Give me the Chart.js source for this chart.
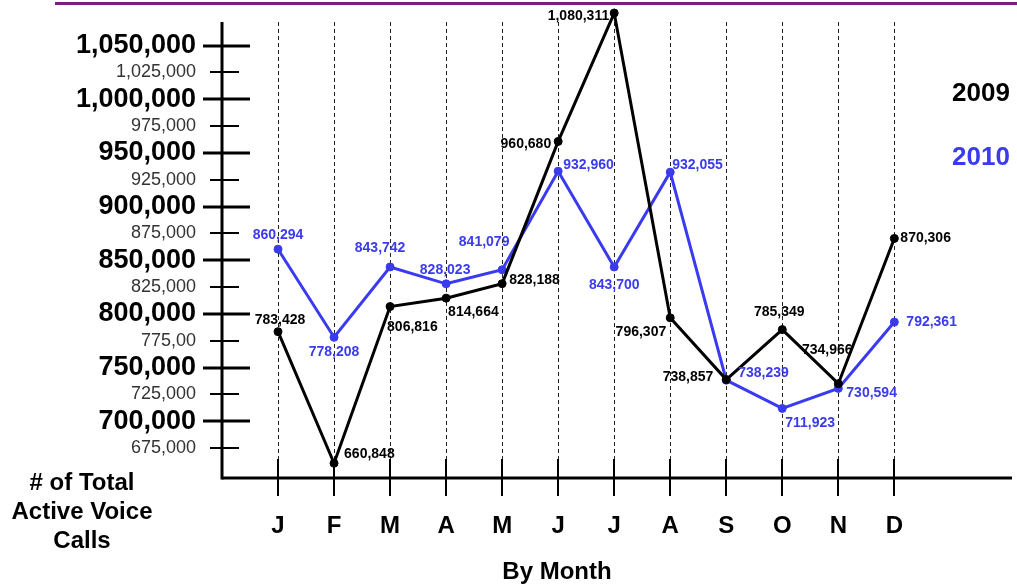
<!DOCTYPE html>
<html>
<head>
<meta charset="utf-8">
<title>Total Active Voice Calls by Month</title>
<script src="https://cdn.jsdelivr.net/npm/chart.js@4.4.1/dist/chart.umd.min.js"></script>
<style>
  html, body { margin: 0; padding: 0; background: #fff; }
  canvas { display: block; }
</style>
</head>
<body>
<canvas id="calls" width="1017" height="585"></canvas>
<script>
// Monthly totals of active voice calls
const months = ['J', 'F', 'M', 'A', 'M', 'J', 'J', 'A', 'S', 'O', 'N', 'D'];
const calls2009 = [783428, 660848, 806816, 814664, 828188, 960680, 1080311, 796307, 738857, 785349, 734966, 870306];
const calls2010 = [860294, 778208, 843742, 828023, 841079, 932960, 843700, 932055, 738239, 711923, 730594, 792361];
const seriesNames = ['2009', '2010'];

// Y axis ticks and their printed labels
const tickValues = [675000, 700000, 725000, 750000, 775000, 800000, 825000, 850000,
                    875000, 900000, 925000, 950000, 975000, 1000000, 1025000, 1050000];
const tickLabels = ['675,000', '700,000', '725,000', '750,000', '775,00', '800,000', '825,000', '850,000',
                    '875,000', '900,000', '925,000', '950,000', '975,000', '1,000,000', '1,025,000', '1,050,000'];

const FONT = '"Liberation Sans", Arial, Helvetica, sans-serif';
const BLACK = '#000000';
const BLUE = '#3a3af0';

// Where each value label sits relative to its point: [dx, dy, textAlign]
const labelPlacement = [
  [[2, -12, 'center'], [10, -9, 'left'], [-3, 21, 'left'], [2, 14, 'left'], [7, -3, 'left'], [-7, 3, 'right'],
   [-5, 3, 'right'], [-4, 14, 'right'], [-13, -2, 'right'], [-3, -17, 'center'], [-11, -34, 'center'], [6, 0, 'left']],
  [[0, -14, 'center'], [0, 15, 'center'], [-10, -19, 'center'], [-1, -14, 'center'], [-18, -28, 'center'], [5, -6, 'left'],
   [0, 18, 'center'], [2, -7, 'left'], [12, -7, 'left'], [3, 15, 'left'], [8, 5, 'left'], [12, 0, 'left']]
];

const toPoints = arr => arr.map((v, i) => ({ x: i, y: v }));
const fmt = v => v.toLocaleString('en-US');

// Axis lines, tick marks and dashed month guides
const axisDecor = {
  id: 'axisDecor',
  beforeDatasetsDraw(chart) {
    const { ctx, chartArea, scales: { x, y } } = chart;
    const left = chartArea.left, bottom = chartArea.bottom;
    ctx.save();
    ctx.strokeStyle = '#222';
    ctx.lineWidth = 1;
    ctx.setLineDash([4, 3]);
    months.forEach((m, i) => {
      const px = Math.round(x.getPixelForValue(i)) + 0.5;
      ctx.beginPath(); ctx.moveTo(px, 22); ctx.lineTo(px, 459); ctx.stroke();
    });
    ctx.setLineDash([]);
    ctx.strokeStyle = '#000';
    ctx.lineWidth = 2;
    months.forEach((m, i) => {
      const px = Math.round(x.getPixelForValue(i));
      ctx.beginPath(); ctx.moveTo(px, 459); ctx.lineTo(px, 496); ctx.stroke();
    });
    ctx.lineWidth = 3;
    ctx.beginPath(); ctx.moveTo(left, 22); ctx.lineTo(left, bottom + 1.5); ctx.stroke();
    ctx.beginPath(); ctx.moveTo(left, bottom); ctx.lineTo(chartArea.right, bottom); ctx.stroke();
    tickValues.forEach(v => {
      const py = Math.round(y.getPixelForValue(v));
      const major = v % 50000 === 0;
      ctx.lineWidth = major ? 3 : 2;
      ctx.beginPath();
      ctx.moveTo(left - (major ? 19 : 12), py);
      ctx.lineTo(left + (major ? 28 : 17), py);
      ctx.stroke();
    });
    ctx.restore();
  },
  afterDatasetsDraw(chart) {
    const { ctx } = chart;
    ctx.save();
    ctx.font = 'bold 14px ' + FONT;
    ctx.textBaseline = 'middle';
    chart.data.datasets.forEach((ds, di) => {
      const meta = chart.getDatasetMeta(di);
      ctx.fillStyle = ds.borderColor;
      meta.data.forEach((pt, i) => {
        const [dx, dy, align] = labelPlacement[di][i];
        ctx.textAlign = align;
        ctx.fillText(fmt(ds.data[i].y), pt.x + dx, pt.y + dy);
      });
    });
    ctx.restore();
  },
  afterDraw(chart) {
    const { ctx } = chart;
    ctx.save();
    // header rule
    ctx.fillStyle = '#7a1f7d';
    ctx.fillRect(55, 2, 962, 3);
    // series key
    ctx.font = 'bold 26px ' + FONT;
    ctx.textAlign = 'left';
    ctx.textBaseline = 'middle';
    chart.data.datasets.forEach((ds, di) => {
      ctx.fillStyle = ds.borderColor;
      ctx.fillText(ds.label, 952, 94 + di * 64);
    });
    // axis captions
    ctx.fillStyle = '#000';
    ctx.textAlign = 'center';
    ctx.font = 'bold 24px ' + FONT;
    ['# of Total', 'Active Voice', 'Calls'].forEach((t, i) => ctx.fillText(t, 82, 483 + i * 29));
    ctx.fillText('By Month', 557, 572);
    ctx.restore();
  }
};

new Chart(document.getElementById('calls'), {
  type: 'line',
  data: {
    datasets: [
      { label: seriesNames[0], data: toPoints(calls2009), borderColor: BLACK, backgroundColor: BLACK,
        pointBackgroundColor: BLACK, pointBorderColor: BLACK },
      { label: seriesNames[1], data: toPoints(calls2010), borderColor: BLUE, backgroundColor: BLUE,
        pointBackgroundColor: BLUE, pointBorderColor: BLUE }
    ]
  },
  options: {
    responsive: false,
    animation: false,
    layout: { padding: { top: 4, right: 4, left: 0, bottom: 0 } },
    datasets: {
      line: { borderWidth: 3, pointRadius: 4, pointBorderWidth: 1, tension: 0, clip: false }
    },
    plugins: { legend: { display: false }, tooltip: { enabled: false } },
    scales: {
      x: {
        type: 'linear',
        min: -1,
        max: 13.1,
        afterBuildTicks: s => { s.ticks = months.map((m, i) => ({ value: i })); },
        afterFit: s => { s.height = 107; s.paddingLeft = 0; s.paddingRight = 0; },
        grid: { display: false, drawTicks: false },
        border: { display: false },
        ticks: {
          padding: 34,
          autoSkip: false,
          maxRotation: 0,
          color: '#000',
          font: { family: FONT, size: 24, weight: 'bold' },
          callback: v => months[v]
        }
      },
      y: {
        type: 'linear',
        min: 647100,
        max: 1087800,
        afterBuildTicks: s => { s.ticks = tickValues.map(v => ({ value: v })); },
        afterFit: s => { s.width = 222; s.paddingTop = 0; s.paddingBottom = 0; },
        grid: { display: false, drawTicks: false },
        border: { display: false },
        ticks: {
          padding: 26,
          autoSkip: false,
          callback: v => tickLabels[tickValues.indexOf(v)],
          color: c => (c.tick && c.tick.value % 50000 === 0) ? '#000' : '#333',
          font: c => (c.tick && c.tick.value % 50000 === 0)
            ? { family: FONT, size: 27, weight: 'bold' }
            : { family: FONT, size: 18, weight: 'normal' }
        }
      }
    }
  },
  plugins: [axisDecor]
});
</script>
</body>
</html>
